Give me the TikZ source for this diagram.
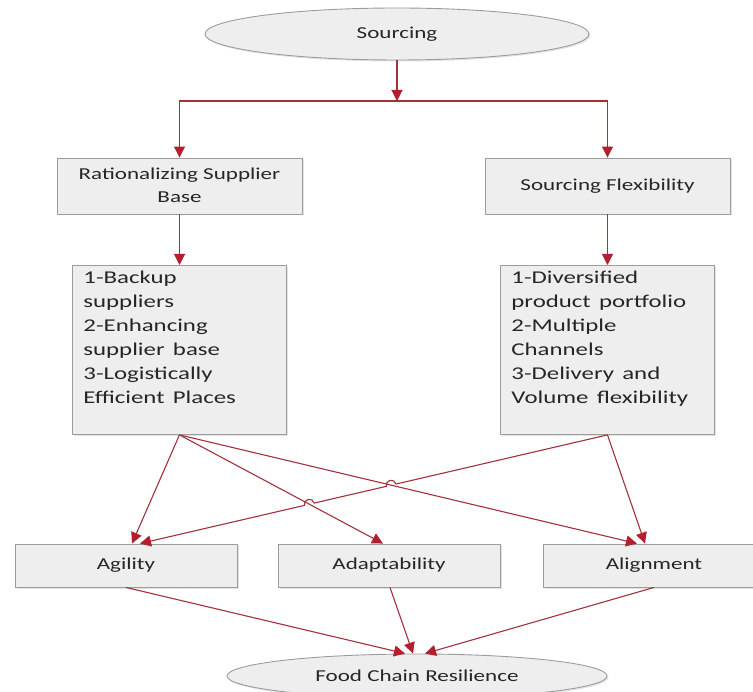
\documentclass[tikz,border=0pt]{standalone}
\usepackage{fontspec}
\setmainfont{Carlito}
\usepackage{graphicx}
\usetikzlibrary{arrows.meta,shapes.geometric,calc,shadows}

\definecolor{linkred}{HTML}{A3303B}
\definecolor{tipred}{HTML}{B31F2E}
\definecolor{boxfill}{HTML}{EEEEEE}
\definecolor{boxline}{HTML}{9C9C9C}
\definecolor{ink}{HTML}{262626}

% the lettering in this chart is set wide
\newcommand\widetext[1]{\scalebox{1.38}[1]{#1}}

\begin{document}
\begin{tikzpicture}[x=1pt,y=-1pt,
  shade/.style={drop shadow={opacity=0.22,shadow xshift=1.5pt,shadow yshift=-1.5pt}},
  rectbox/.style={draw=boxline, fill=boxfill, line width=0.9pt, text=ink, shade,
    font=\fontsize{16.7}{23}\selectfont, inner sep=0pt},
  ovalnode/.style={ellipse, draw=boxline, fill=boxfill, line width=0.9pt, text=ink, shade,
    font=\fontsize{16.7}{23}\selectfont, inner sep=0pt},
  listbox/.style={rectbox, anchor=north west, font=\fontsize{18}{24}\selectfont,
    text width=192pt, inner xsep=11pt, inner ysep=4pt, align=left,
    text height=14pt, text depth=147pt},
  tierbox/.style={rectbox, minimum width=222pt, minimum height=43pt},
  link/.style={draw=linkred, line width=1.1pt,
    -{Triangle[length=11pt,width=11pt,color=tipred]}}
]
\useasboundingbox (0,0) rectangle (753,692);
\clip (0,0) rectangle (753,692);

% top and bottom ovals
\node[ovalnode, minimum width=384pt, minimum height=52pt] (src) at (397,34)
  {\widetext{Sourcing}};
\node[ovalnode, minimum width=380pt, minimum height=44pt] (food) at (417,676)
  {\widetext{Food Chain Resilience}};

% second tier
\node[rectbox, minimum width=245pt, minimum height=56pt] (rat) at (179.5,186)
  {\widetext{\begin{tabular}{@{}c@{}}Rationalizing Supplier\\Base\end{tabular}}};
\node[rectbox, minimum width=245pt, minimum height=56pt] (flex) at (607.5,186)
  {\widetext{Sourcing Flexibility}};

% detail lists
\node[listbox] (lst1) at (72,265)
  {\widetext{\begin{tabular}[t]{@{}l@{}}1-Backup\\suppliers\\2-Enhancing\\supplier base\\3-Logistically\\Efficient Places\end{tabular}}};
\node[listbox] (lst2) at (500,265)
  {\widetext{\begin{tabular}[t]{@{}l@{}}1-Diversified\\product portfolio\\2-Multiple\\Channels\\3-Delivery and\\Volume flexibility\end{tabular}}};

% capability tier
\node[tierbox] (ag) at (126,565.5) {\widetext{Agility}};
\node[tierbox] (ad) at (389,565.5) {\widetext{Adaptability}};
\node[tierbox] (al) at (654,565.5) {\widetext{Alignment}};

% split below the top oval
\coordinate (bar) at (397,101);
\draw[link] (src.south) -- (bar);
\draw[link] (bar) -| (rat.north);
\draw[link] (bar) -| (flex.north);
\draw[link] (rat.south) -- (rat.south |- lst1.north);
\draw[link] (flex.south) -- (flex.south |- lst2.north);

% list to capability connectors
\coordinate (s1) at (lst1.south);
\coordinate (s2) at (lst2.south);
\coordinate (agA) at ([xshift=6pt]ag.north);
\coordinate (agB) at ([xshift=14pt]ag.north);
\coordinate (adA) at ([xshift=-6pt]ad.north);
\coordinate (alA) at ([xshift=-17pt]al.north);
\coordinate (alB) at ([xshift=-9pt]al.north);

\draw[link] (s1) -- (agA);
\draw[link] (s1) -- (adA);
\draw[link] (s1) -- (alA);
\draw[link] (s2) -- (alB);

% crossing line with hops over the two lines it crosses
\coordinate (h1) at (intersection of s2--agB and s1--alA);
\coordinate (h2) at (intersection of s2--agB and s1--adA);
\draw[link] (s2) -- ($(h1)!5pt!(s2)$)
  arc[start angle=13.25, end angle=193.25, radius=5pt]
  -- ($(h2)!5pt!(s2)$)
  arc[start angle=13.25, end angle=193.25, radius=5pt]
  -- (agB);

% capabilities into resilience
\draw[link] (ag.south) -- ([xshift=-12pt]food.north);
\draw[link] ([xshift=1pt]ad.south) -- ([xshift=-4pt]food.north);
\draw[link] (al.south) -- ([xshift=8pt]food.north);
\end{tikzpicture}
\end{document}
